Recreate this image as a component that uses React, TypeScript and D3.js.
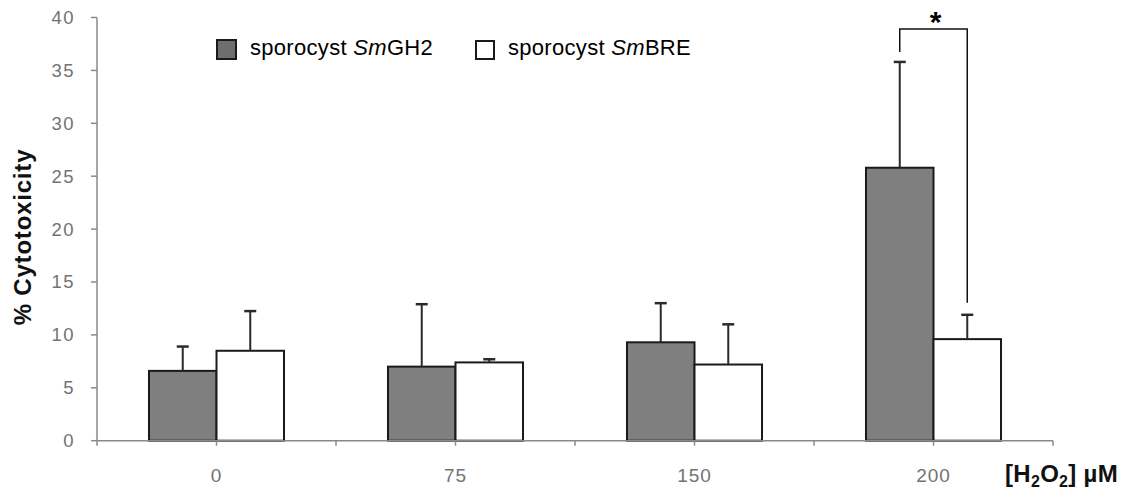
import React from "react";
import * as d3 from "d3";

const categories = ["0", "75", "150", "200"];
const seriesNames = ["sporocyst SmGH2", "sporocyst SmBRE"];
const gh2Values = [6.6, 7.0, 9.3, 25.8];
const gh2ErrTop = [8.9, 12.9, 13.0, 35.8];
const breValues = [8.5, 7.4, 7.2, 9.6];
const breErrTop = [12.25, 7.7, 11.0, 11.9];
const yTicks = [0, 5, 10, 15, 20, 25, 30, 35, 40];

const W = 1139;
const H = 493;
const left = 97;
const right = 1053;
const top = 17.5;
const bottom = 440.7;

export default function App() {
  const y = d3.scaleLinear().domain([0, 40]).range([bottom, top]);
  const x0 = d3.scaleBand<string>().domain(categories).range([left, right]).paddingInner(0).paddingOuter(0);
  const x1 = d3
    .scaleBand<string>()
    .domain(seriesNames)
    .range([0, x0.bandwidth()])
    .paddingInner(0)
    .paddingOuter(0.77);
  const bw = x1.bandwidth();
  const series = [
    { name: seriesNames[0], vals: gh2Values, errs: gh2ErrTop, fill: "#7f7f7f" },
    { name: seriesNames[1], vals: breValues, errs: breErrTop, fill: "#ffffff" },
  ];
  const tickFont = "Liberation Sans, Arial, sans-serif";
  const boundaries = categories.map((c) => x0(c)!).concat([right]);
  const centers = categories.map((c) => x0(c)! + x0.bandwidth() / 2);

  const bx1 = x0("200")! + x1(seriesNames[0])! + bw / 2;
  const bx2 = x0("200")! + x1(seriesNames[1])! + bw / 2;

  return (
    <svg width={W} height={H} style={{ position: "absolute", left: 0, top: 0, background: "#fff" }}>
      <rect x={0} y={0} width={W} height={H} fill="#fff" />
      {/* y axis */}
      <line x1={left} x2={left} y1={y(40)} y2={y(0)} stroke="#8a8a8a" strokeWidth={1.5} />
      {yTicks.map((t) => (
        <g key={t}>
          <line x1={left - 6} x2={left} y1={y(t)} y2={y(t)} stroke="#8a8a8a" strokeWidth={1.5} />
          <text
            x={75}
            y={y(t)}
            dy="0.35em"
            textAnchor="end"
            fontFamily={tickFont}
            fontSize={18.5}
            letterSpacing={1.5}
            fill="#737373"
          >
            {t}
          </text>
        </g>
      ))}
      {/* bars */}
      {categories.map((c, i) => (
        <g key={c}>
          {series.map((s) => {
            const bx = x0(c)! + x1(s.name)!;
            return (
              <rect
                key={s.name}
                x={bx}
                y={y(s.vals[i])}
                width={bw}
                height={y(0) - y(s.vals[i])}
                fill={s.fill}
                stroke="#1a1a1a"
                strokeWidth={2}
              />
            );
          })}
        </g>
      ))}
      {/* x axis */}
      <line x1={left} x2={right} y1={y(0)} y2={y(0)} stroke="#8a8a8a" strokeWidth={1.5} />
      {boundaries.concat(centers).map((bxv, i) => (
        <line key={i} x1={bxv} x2={bxv} y1={y(0)} y2={y(0) + 5} stroke="#8a8a8a" strokeWidth={1.5} />
      ))}
      {/* error bars */}
      {categories.map((c, i) => (
        <g key={"e" + c}>
          {series.map((s) => {
            const cx = x0(c)! + x1(s.name)! + bw / 2;
            return (
              <g key={s.name}>
                <line x1={cx} x2={cx} y1={y(s.vals[i])} y2={y(s.errs[i])} stroke="#2a2a2a" strokeWidth={2} />
                <line x1={cx - 6} x2={cx + 6} y1={y(s.errs[i])} y2={y(s.errs[i])} stroke="#2a2a2a" strokeWidth={2.5} />
              </g>
            );
          })}
        </g>
      ))}
      {/* category labels */}
      {categories.map((c) => (
        <text
          key={"l" + c}
          x={x0(c)! + x0.bandwidth() / 2}
          y={482}
          textAnchor="middle"
          fontFamily={tickFont}
          fontSize={19}
          letterSpacing={1}
          fill="#737373"
        >
          {c}
        </text>
      ))}
      {/* significance bracket */}
      <path
        d={`M${bx1},${y(gh2ErrTop[3]) - 10} V29 H${bx2} V${y(breErrTop[3]) - 12}`}
        fill="none"
        stroke="#111"
        strokeWidth={1.5}
      />
      <text x={(bx1 + bx2) / 2 + 2} y={32} textAnchor="middle" fontFamily={tickFont} fontWeight="bold" fontSize={30} fill="#000">
        *
      </text>
      {/* legend */}
      <rect x={217} y={40} width={19} height={19} fill="#6e6e6e" stroke="#1a1a1a" strokeWidth={2} />
      <text x={250} y={55} fontFamily={tickFont} fontSize={22} letterSpacing={0.3} fill="#000">
        sporocyst <tspan fontStyle="italic">Sm</tspan>GH2
      </text>
      <rect x={476} y={41} width={18} height={18} fill="#fff" stroke="#1a1a1a" strokeWidth={2} />
      <text x={508} y={55} fontFamily={tickFont} fontSize={22} letterSpacing={0.3} fill="#000">
        sporocyst <tspan fontStyle="italic">Sm</tspan>BRE
      </text>
      {/* axis titles */}
      <text
        transform={`translate(22,237) rotate(-90)`}
        textAnchor="middle"
        dominantBaseline="central"
        fontFamily={tickFont}
        fontWeight="bold"
        fontSize={24}
        letterSpacing={0.8}
        fill="#111"
      >
        % Cytotoxicity
      </text>
      <text x={1005} y={482} fontFamily={tickFont} fontWeight="bold" fontSize={24} letterSpacing={0.3} fill="#111">
        [H<tspan fontSize={16} dy={5}>2</tspan>
        <tspan dy={-5}>O</tspan>
        <tspan fontSize={16} dy={5}>2</tspan>
        <tspan dy={-5}>] µM</tspan>
      </text>
    </svg>
  );
}
